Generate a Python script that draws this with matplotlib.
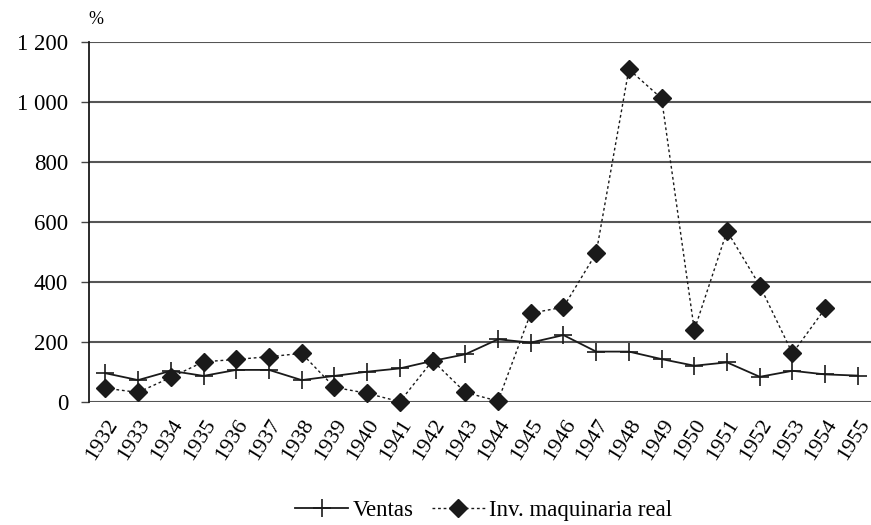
import matplotlib
matplotlib.use("Agg")
import matplotlib.pyplot as plt
from matplotlib.transforms import ScaledTranslation

years = [str(y) for y in range(1932, 1956)]
ventas = [96, 73, 104, 87, 107, 107, 73, 87, 101, 112, 137, 159,
          209, 198, 223, 168, 168, 143, 121, 132, 84, 104, 92, 88]
inv_maq = [46, 32, 82, 134, 142, 151, 162, 49, 29, 1, 138, 32,
           3, 296, 316, 496, 1109, 1012, 240, 570, 388, 162, 312, None]
yticks = [0, 200, 400, 600, 800, 1000, 1200]
ytick_labels = ["0", "200", "400", "600", "800", "1 000", "1 200"]

plt.rcParams['font.family'] = ['Liberation Serif', 'DejaVu Serif']

fig = plt.figure(figsize=(8.71, 5.25), dpi=100)
ax = fig.add_axes([89/871, 1-402/525, (871-89)/871, 360/525])

x = list(range(len(years)))
ax.plot(x, ventas, color='#1a1a1a', lw=1.3, marker='+', ms=13, mew=1.2,
        label='Ventas', clip_on=False, zorder=3)
xi = [i for i, v in enumerate(inv_maq) if v is not None]
vi = [v for v in inv_maq if v is not None]
ax.plot(xi, vi, color='#1a1a1a', lw=1.0, ls=(0, (2, 2)), marker='D', ms=9.5,
        label='Inv. maquinaria real', clip_on=False, zorder=4)

ax.set_ylim(0, 1200)
ax.set_xlim(-0.5, 23.4)
ax.set_yticks(yticks)
ax.set_yticklabels(ytick_labels, fontsize=16.5)
ax.set_xticks(x)
ax.set_xticklabels(years, rotation=58, ha='right', rotation_mode='anchor', fontsize=16)
off = ScaledTranslation(0.5/100, 0, fig.dpi_scale_trans)
for lab in ax.get_xticklabels():
    lab.set_transform(lab.get_transform() + off)
ax.tick_params(axis='x', length=0, pad=10)
ax.tick_params(axis='y', length=6, width=1, color='#444444', pad=9)
ax.yaxis.grid(True, color='#555555', lw=1.5)
ax.set_axisbelow(True)
for s in ['top', 'right', 'bottom']:
    ax.spines[s].set_visible(False)
ax.spines['left'].set_color('#1a1a1a')
ax.spines['left'].set_linewidth(1.3)

fig.text(96/871, 1-20/525, '%', fontsize=13, ha='center', va='center')

leg = fig.legend(loc='center', bbox_to_anchor=(484/871, 1-510/525), ncol=2,
                 frameon=False, fontsize=16.5, handlelength=2.3, handletextpad=0.2,
                 columnspacing=0.8)

fig.savefig('out.png', dpi=100)
